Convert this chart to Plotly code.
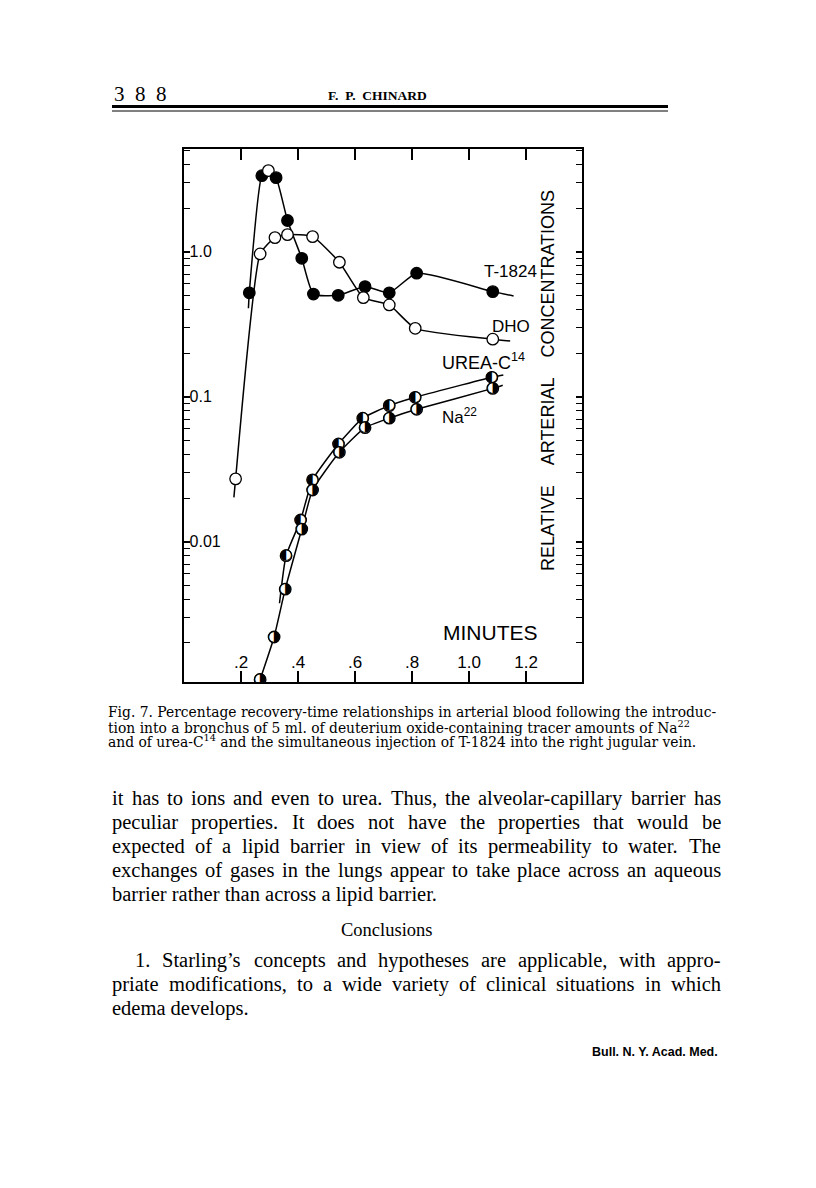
import math
import plotly.graph_objects as go

# ---------------- data ----------------
# T-1824 (filled circles; the apex point is drawn open)
t1824_x = [0.229, 0.273, 0.296, 0.323, 0.363, 0.413, 0.454, 0.541, 0.635, 0.720, 0.816, 1.083]
t1824_y = [0.52, 3.34, 3.62, 3.24, 1.64, 0.90, 0.51, 0.50, 0.574, 0.52, 0.71, 0.53]
t1824_open = [False, False, True, False, False, False, False, False, False, False, False, False]
t1824_tail_start = (0.226, 0.407)
t1824_tail_end = (1.156, 0.495)

# DHO (open circles)
dho_x = [0.181, 0.267, 0.319, 0.363, 0.451, 0.545, 0.629, 0.720, 0.811, 1.083]
dho_y = [0.0271, 0.964, 1.25, 1.31, 1.27, 0.845, 0.482, 0.429, 0.296, 0.249]
dho_tail_start = (0.175, 0.0202)
dho_tail_end = (1.144, 0.242)

# UREA-C14 (half-filled circles)
urea_x = [0.358, 0.409, 0.451, 0.542, 0.627, 0.720, 0.811, 1.080]
urea_y = [0.0080, 0.0141, 0.0267, 0.0472, 0.071, 0.0867, 0.099, 0.136]
urea_tail_start = (0.335, 0.00376)
urea_tail_end = (1.120, 0.141)

# Na22 (half-filled circles)
na_x = [0.267, 0.316, 0.355, 0.413, 0.451, 0.545, 0.635, 0.720, 0.816, 1.083]
na_y = [0.00112, 0.0022, 0.0047, 0.0122, 0.0227, 0.0413, 0.0611, 0.071, 0.0818, 0.114]
na_tail_end = (1.118, 0.120)

x_tickvals = [0.2, 0.4, 0.6, 0.8, 1.0, 1.2]
x_ticktext = [".2", ".4", ".6", ".8", "1.0", "1.2"]
y_tickvals = [0.01, 0.1, 1.0]
y_ticktext = ["0.01", "0.1", "1.0"]

caption_lines = [
    "Fig. 7. Percentage recovery-time relationships in arterial blood following the introduc-",
    "tion into a bronchus of 5 ml. of deuterium oxide-containing tracer amounts of Na<sup>22</sup>",
    "and of urea-C<sup>14</sup> and the simultaneous injection of T-1824 into the right jugular vein.",
]
body_lines_1 = [
    "it has to ions and even to urea. Thus, the alveolar-capillary barrier has",
    "peculiar properties. It does not have the properties that would be",
    "expected of a lipid barrier in view of its permeability to water. The",
    "exchanges of gases in the lungs appear to take place across an aqueous",
    "barrier rather than across a lipid barrier.",
]
heading = "Conclusions"
body_lines_2 = [
    "1. Starling\u2019s concepts and hypotheses are applicable, with appro-",
    "priate modifications, to a wide variety of clinical situations in which",
    "edema develops.",
]

# ---------------- page geometry (reference pixels) ----------------
W, H = 816, 1188
OFF = 8                                 # browser body margin
FW, FH = W - 2 * OFF, H - 2 * OFF
PL, PR, PT, PB = 184, 582, 149, 682     # plot frame, page pixels


def px(x):
    return (x - PL) / (PR - PL)


def py(y):
    return (PB - y) / (PB - PT)


SANS = "Liberation Sans, Arial, sans-serif"
SERIF = "Liberation Serif, Times New Roman, serif"
CAPSERIF = "DejaVu Serif, serif"

# Times / Liberation Serif advance widths (1/1000 em) for justification
TW = dict(zip("abcdefghijklmnopqrstuvwxyz",
              [444, 500, 444, 500, 444, 333, 500, 500, 278, 278, 500, 278, 778, 500, 500, 500, 500,
               333, 389, 278, 500, 500, 722, 500, 500, 444]))
TW.update(dict(zip("ABCDEFGHIJKLMNOPQRSTUVWXYZ",
                   [722, 667, 667, 722, 611, 556, 722, 722, 333, 389, 722, 611, 889, 722, 722, 556,
                    722, 667, 556, 611, 722, 722, 944, 722, 722, 611])))
TW.update({" ": 250, ".": 250, ",": 250, "-": 333, "'": 180, "\u2019": 333, ":": 278, ";": 278})
for d in "0123456789":
    TW[d] = 500


def tw(s, fs):
    return sum(TW.get(c, 500) for c in s) * fs / 1000.0


fig = go.Figure()
LINE = dict(color="black", width=1.5)


def line_trace(xs, ys):
    return go.Scatter(x=xs, y=ys, mode="lines", line=dict(**LINE, shape="spline", smoothing=0.5),
                      hoverinfo="skip", showlegend=False)


fig.add_trace(line_trace([t1824_tail_start[0]] + t1824_x + [t1824_tail_end[0]],
                         [t1824_tail_start[1]] + t1824_y + [t1824_tail_end[1]]))
fig.add_trace(line_trace([dho_tail_start[0]] + dho_x + [dho_tail_end[0]],
                         [dho_tail_start[1]] + dho_y + [dho_tail_end[1]]))
fig.add_trace(line_trace([urea_tail_start[0]] + urea_x + [urea_tail_end[0]],
                         [urea_tail_start[1]] + urea_y + [urea_tail_end[1]]))
fig.add_trace(line_trace(na_x + [na_tail_end[0]], na_y + [na_tail_end[1]]))

fig.add_trace(go.Scatter(x=t1824_x, y=t1824_y, mode="markers", showlegend=False,
                         marker=dict(size=11.5, symbol="circle",
                                     color=["white" if o else "black" for o in t1824_open],
                                     line=dict(color="black", width=1.3))))
fig.add_trace(go.Scatter(x=dho_x, y=dho_y, mode="markers", showlegend=False,
                         marker=dict(size=11.5, symbol="circle", color="white",
                                     line=dict(color="black", width=1.3))))
for xs, ys, glyph in [(urea_x, urea_y, "\u25d0"), (na_x, na_y, "\u25d1")]:
    fig.add_trace(go.Scatter(x=xs, y=ys, mode="markers", showlegend=False,
                             marker=dict(size=11.5, symbol="circle", color="white",
                                         line=dict(color="black", width=1.3))))
    fig.add_trace(go.Scatter(x=xs, y=ys, mode="text", text=[glyph] * len(xs), showlegend=False,
                             textposition="middle center",
                             textfont=dict(family="DejaVu Sans", size=15, color="black")))

fig.update_xaxes(range=[0, 1.396], showgrid=False, zeroline=False,
                 showline=True, linecolor="black", linewidth=1.5, mirror="allticks",
                 ticks="inside", ticklen=11, tickwidth=1.5, tickcolor="black",
                 tickvals=x_tickvals, ticktext=x_ticktext,
                 ticklabelposition="inside", ticklabelstandoff=0,
                 tickfont=dict(family=SANS, size=17, color="black"))
fig.update_yaxes(type="log", range=[-2.968, 0.708], showgrid=False, zeroline=False,
                 showline=True, linecolor="black", linewidth=1.5, mirror="allticks",
                 ticks="inside", ticklen=6, tickwidth=1.5, tickcolor="black",
                 tickvals=y_tickvals, ticktext=y_ticktext,
                 ticklabelposition="inside", ticklabelstandoff=0,
                 tickfont=dict(family=SANS, size=16, color="black"),
                 minor=dict(ticks="inside", ticklen=6, tickwidth=1.3, tickcolor="black",
                            dtick="D1", showgrid=False))

ann = []


def data_label(text, x, y, size=17):
    ann.append(dict(text=text, x=x, y=math.log10(y), xref="x", yref="y", showarrow=False,
                    font=dict(family=SANS, size=size, color="black"),
                    xanchor="center", yanchor="middle"))


def page_text(text, x, y, size, family, anchor="left", angle=0):
    ann.append(dict(text=text, x=px(x), y=py(y), xref="paper", yref="paper", showarrow=False,
                    textangle=angle, font=dict(family=family, size=size, color="black"),
                    xanchor=anchor, yanchor="middle"))


data_label("T-1824", 1.144, 0.724)
data_label("DHO", 1.147, 0.307)
data_label("UREA-C<sup>14</sup>", 1.049, 0.174, size=18)
data_label("Na<sup>22</sup>", 0.968, 0.0736)
data_label("MINUTES", 1.074, 0.00238, size=21)

NB4 = "\u00a0" * 4
page_text("RELATIVE" + NB4 + "ARTERIAL" + NB4 + "CONCENTRATIONS", 548, 381, 18, SANS,
          anchor="center", angle=-90)

# header
page_text("3\u00a0\u00a08\u00a0\u00a08", 112, 94, 21, SERIF)
page_text("<b>F.\u00a0 P.\u00a0 CHINARD</b>", 377, 95, 13.5, SERIF, anchor="center")

# caption
for i, t in enumerate(caption_lines):
    page_text(t, 106, 712 + 14.5 * i, 13.85, CAPSERIF)

# body text, justified
BFS = 20.5


def justified(line, left, right, y, justify=True):
    words = line.split(" ")
    if not justify or len(words) < 2:
        page_text(line, left, y, BFS, SERIF)
        return
    total = sum(tw(w, BFS) for w in words)
    gap = (right - left - total) / (len(words) - 1)
    x = left
    for w in words:
        page_text(w, x, y, BFS, SERIF)
        x += tw(w, BFS) + gap


for i, t in enumerate(body_lines_1):
    justified(t, 110, 719, 798 + 24 * i, justify=(i < len(body_lines_1) - 1))
page_text(heading, 386, 930, 18.5, SERIF, anchor="center")
for i, t in enumerate(body_lines_2):
    justified(t, 133 if i == 0 else 110, 719, 960 + 24 * i, justify=(i < len(body_lines_2) - 1))

page_text("<b>Bull. N. Y. Acad. Med.</b>", 720, 1052, 12.5,
          "Liberation Sans Narrow, Liberation Sans", anchor="right")

shapes = [
    dict(type="line", xref="paper", yref="paper", x0=px(112), x1=px(668), y0=py(106.5), y1=py(106.5),
         line=dict(color="black", width=3.2)),
    dict(type="line", xref="paper", yref="paper", x0=px(112), x1=px(668), y0=py(111), y1=py(111),
         line=dict(color="black", width=1)),
]

fig.update_layout(width=FW, height=FH, autosize=False,
                  margin=dict(l=PL - OFF, r=FW - (PR - OFF), t=PT - OFF, b=FH - (PB - OFF), pad=0),
                  paper_bgcolor="white", plot_bgcolor="white",
                  annotations=ann, shapes=shapes, showlegend=False)

fig.write_html("out.html")
